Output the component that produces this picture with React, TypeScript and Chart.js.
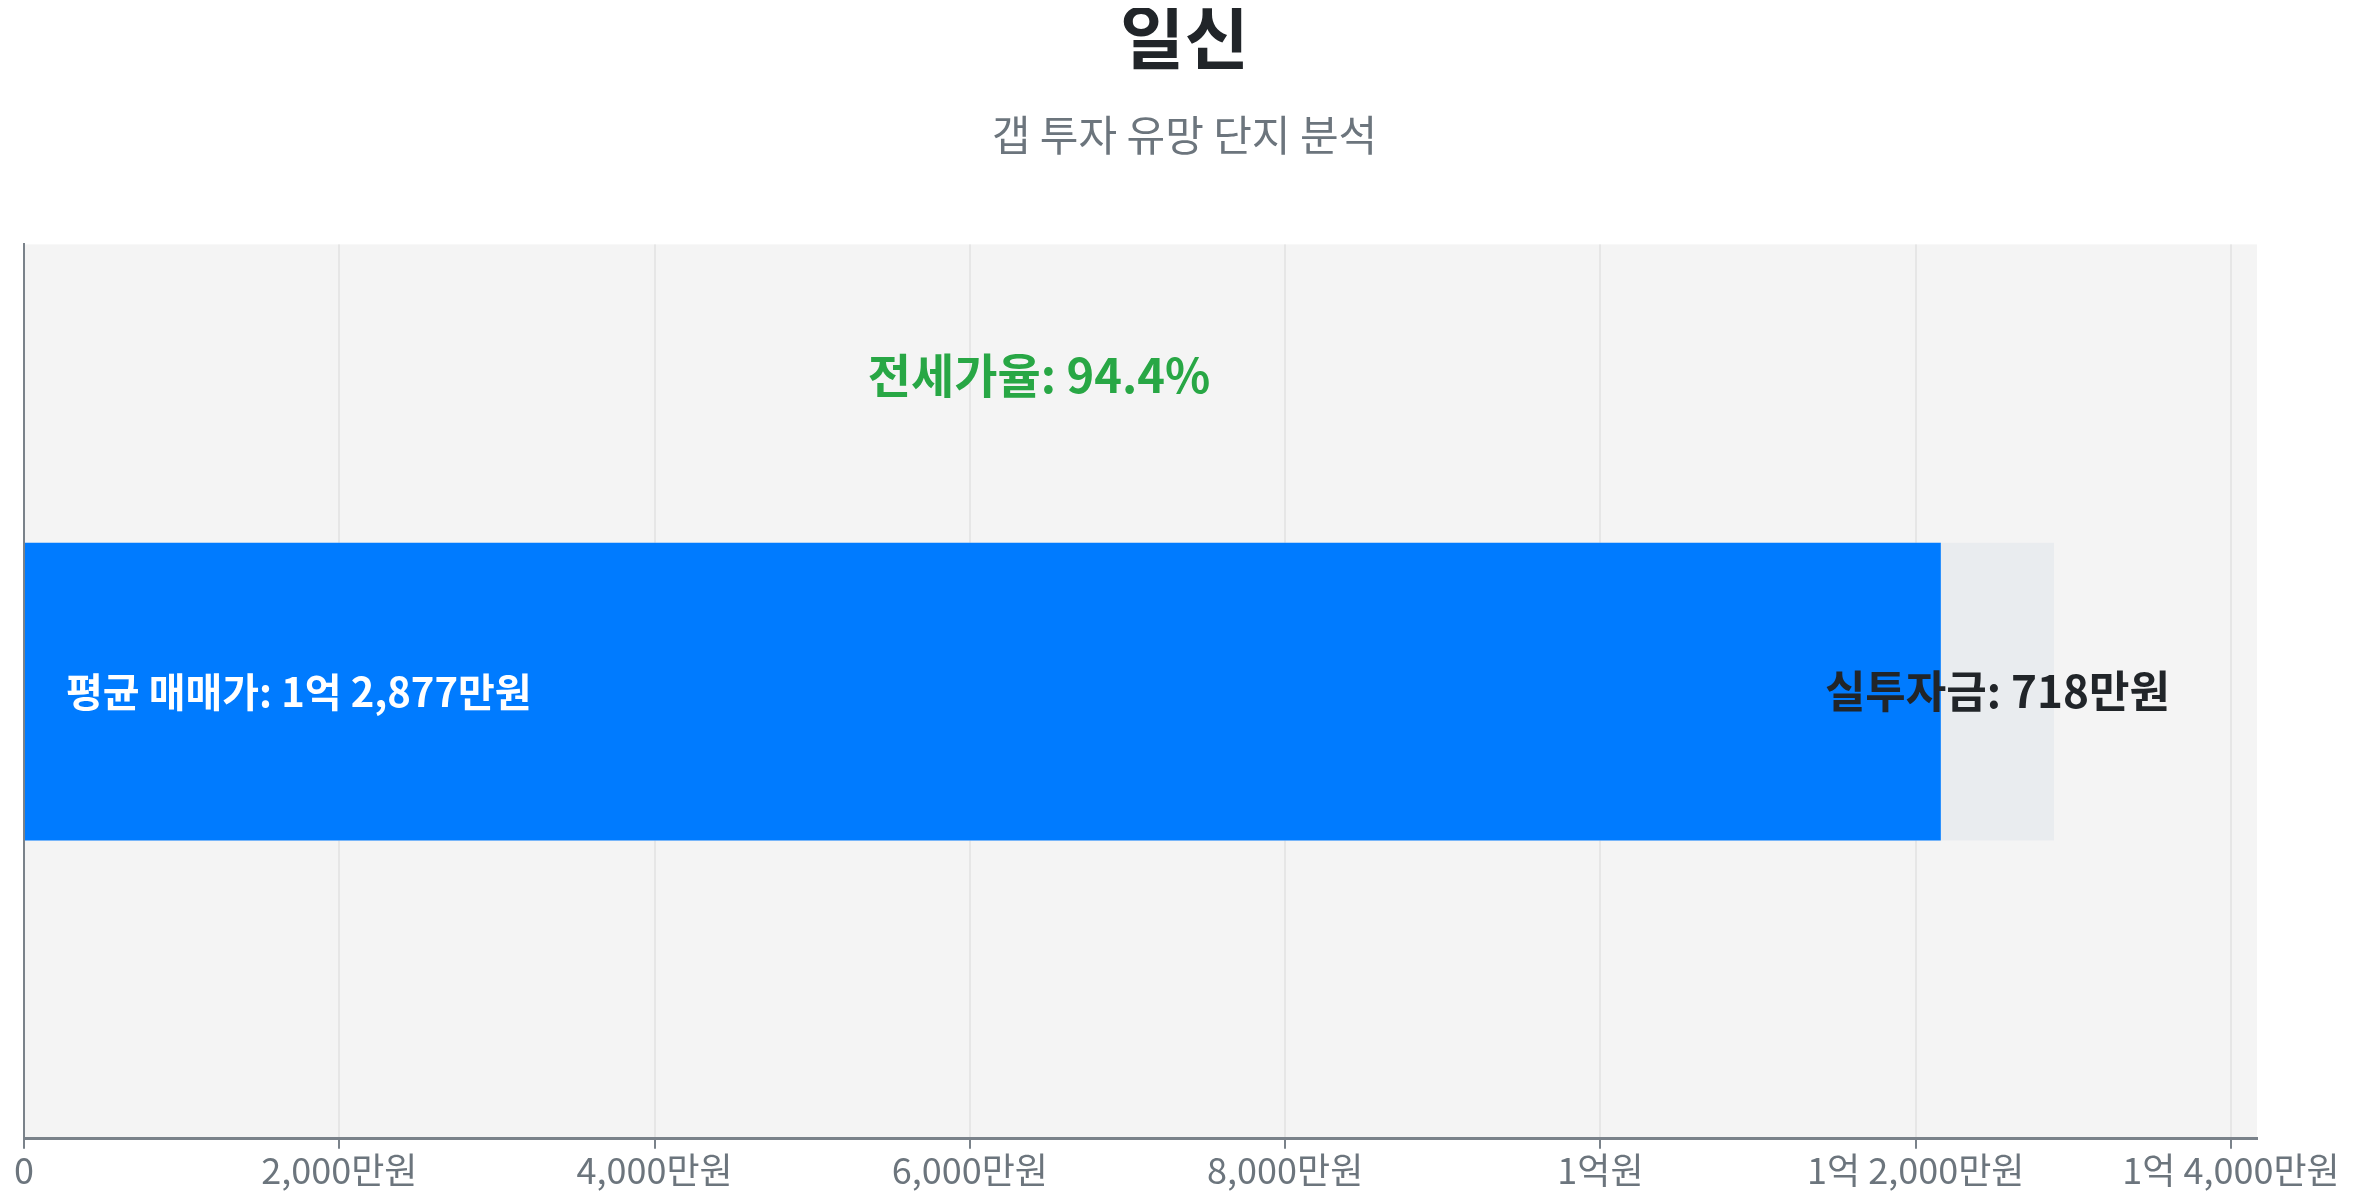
import React, { useEffect, useRef } from "react";
import { Chart, registerables } from "chart.js";

Chart.register(...registerables);

const complexName = "일신";
const subtitleText = "갭 투자 유망 단지 분석";
const categories = ["일신"];
const salePrice = [12877]; // 만원
const investment = [718]; // 만원
const jeonsePrice = [12159]; // 만원
const jeonseRatioText = ["94.4%"];
const xTickValues = [0, 2000, 4000, 6000, 8000, 10000, 12000, 14000];

const FONT = "'Noto Sans CJK KR', 'Noto Sans', sans-serif";

function formatManwon(v: number): string {
  if (v === 0) return "0";
  const eok = Math.floor(v / 10000);
  const rest = Math.round(v % 10000);
  if (eok > 0) {
    if (rest === 0) return `${eok}억원`;
    return `${eok}억 ${rest.toLocaleString("en-US")}만원`;
  }
  return `${rest.toLocaleString("en-US")}만원`;
}

const bgPlugin = {
  id: "areaBg",
  beforeDraw(chart: any) {
    const { ctx, chartArea } = chart;
    ctx.save();
    ctx.fillStyle = "#f4f4f4";
    ctx.fillRect(chartArea.left, chartArea.top, chartArea.right - chartArea.left, chartArea.bottom - chartArea.top);
    ctx.restore();
  },
};

const labelPlugin = {
  id: "barLabels",
  afterDatasetsDraw(chart: any) {
    const { ctx, chartArea, scales } = chart;
    const xs = scales.x;
    const ys = scales.y;
    const yc = ys.getPixelForValue(0);
    ctx.save();
    ctx.textBaseline = "middle";
    // sale price label
    ctx.font = `bold 40px ${FONT}`;
    ctx.fillStyle = "#ffffff";
    ctx.textAlign = "left";
    ctx.fillText(`평균 매매가: ${formatManwon(salePrice[0])}`, xs.getPixelForValue(0) + 42, yc);
    // investment label
    ctx.font = `bold 44px ${FONT}`;
    ctx.fillStyle = "#212529";
    ctx.textAlign = "center";
    const midX = (xs.getPixelForValue(jeonsePrice[0]) + xs.getPixelForValue(salePrice[0])) / 2;
    ctx.fillText(`실투자금: ${formatManwon(investment[0])}`, midX, yc);
    // ratio label
    ctx.font = `bold 47px ${FONT}`;
    ctx.fillStyle = "#28a745";
    const rx = xs.getPixelForValue(salePrice[0] / 2);
    const ry = chartArea.top + (chartArea.bottom - chartArea.top) * 0.146;
    ctx.fillText(`전세가율: ${jeonseRatioText[0]}`, rx, ry);
    ctx.restore();
  },
};

export default function App() {
  const ref = useRef<HTMLCanvasElement | null>(null);
  useEffect(() => {
    if (!ref.current) return;
    Chart.defaults.font.family = FONT;
    const chart = new Chart(ref.current, {
      type: "bar",
      data: {
        labels: categories,
        datasets: [
          {
            label: "매매가",
            data: salePrice,
            backgroundColor: "#e9ecef",
            order: 1,
          },
          {
            label: "전세가",
            data: jeonsePrice,
            backgroundColor: "#007bff",
            order: 0,
          },
        ],
      },
      options: {
        indexAxis: "y",
        animation: false,
        responsive: true,
        maintainAspectRatio: false,
        layout: { padding: { left: 16, right: 0, top: 0, bottom: 0 } },
        datasets: {
          bar: { grouped: false, categoryPercentage: 1, barPercentage: 0.333 },
        } as any,
        plugins: {
          legend: { display: false },
          tooltip: { enabled: false },
          title: {
            display: true,
            text: complexName,
            color: "#212529",
            font: { size: 70, weight: "bold", family: FONT, lineHeight: 1.0 },
            padding: { top: -6, bottom: 0 },
          },
          subtitle: {
            display: true,
            text: subtitleText,
            color: "#6c757d",
            font: { size: 42, weight: "normal", family: FONT, lineHeight: 1.2 },
            padding: { top: 38, bottom: 84 },
          },
        },
        scales: {
          x: {
            min: 0,
            max: salePrice[0] * 1.1,
            afterBuildTicks: (scale: any) => {
              scale.ticks = xTickValues.map((v) => ({ value: v }));
            },
            afterFit: (scale: any) => {
              scale.paddingRight = Math.max(scale.paddingRight, 88);
            },
            ticks: {
              color: "#6c757d",
              font: { size: 36, family: FONT },
              padding: 0,
              maxRotation: 0,
              autoSkip: false,
              callback: (v: any) => formatManwon(Number(v)),
            },
            grid: {
              color: "#e6e6e6",
              lineWidth: 2,
              tickColor: "#7a828a",
              tickLength: 10,
            },
            border: { color: "#7a828a", width: 3 },
          },
          y: {
            ticks: { display: false },
            grid: { display: false, drawTicks: false, tickLength: 0 },
            border: { color: "#7a828a", width: 2 },
          },
        },
      },
      plugins: [bgPlugin, labelPlugin],
    });
    return () => chart.destroy();
  }, []);
  return (
    <div style={{ width: "100%", height: "1184px", position: "relative" }}>
      <canvas ref={ref} />
    </div>
  );
}
